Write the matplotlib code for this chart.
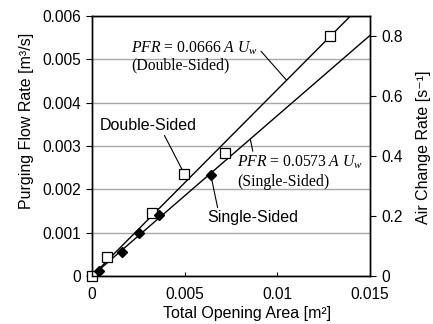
import numpy as np
import matplotlib
matplotlib.use("Agg")
import matplotlib.pyplot as plt

# measured points
double_area = [0.0, 0.00079, 0.00323, 0.00499, 0.00719, 0.01283]
double_pfr = [0.0, 0.00043, 0.00145, 0.00235, 0.00285, 0.00554]
single_area = [0.0004, 0.00164, 0.00256, 0.00364, 0.00641]
single_pfr = [0.000115, 0.000554, 0.000985, 0.00141, 0.00233]

# fitted lines PFR = c * A * Uw
coef_double = 0.0666
coef_single = 0.0573
wind_speed = 6.46
room_volume = 0.00692   # m3, converts PFR to air change rate

area_fit = [0.0, 0.015]

plt.rcParams['font.family'] = ['Liberation Sans', 'DejaVu Sans']
plt.rcParams['mathtext.fontset'] = 'custom'
plt.rcParams['mathtext.rm'] = 'Liberation Serif'
plt.rcParams['mathtext.it'] = 'Liberation Serif:italic'

fs_tick = 11.2
fs_lab = 11.5
fs_eq = 11.3

fig = plt.figure(figsize=(4.33, 3.24), dpi=100)
ax = fig.add_axes([92/433, 1-276/324, 278/433, 260/324])

a = np.array(area_fit)
ax.plot(a, coef_double*wind_speed*a, color='black', lw=1, zorder=2)
ax.plot(a, coef_single*wind_speed*a, color='black', lw=1, zorder=2)
ax.plot(double_area, double_pfr, ls='none', marker='s', ms=7.2, mfc='white',
        mec='black', mew=0.9, zorder=4, clip_on=False)
ax.plot(single_area, single_pfr, ls='none', marker='D', ms=5.5, mfc='black',
        mec='black', zorder=5, clip_on=False)

ax.set_xlim(0, 0.015)
ax.set_ylim(0, 0.006)
ax.set_xticks([0, 0.005, 0.01, 0.015])
ax.set_xticklabels(['0', '0.005', '0.01', '0.015'])
ax.set_yticks([0, 0.001, 0.002, 0.003, 0.004, 0.005, 0.006])
ax.set_yticklabels(['0', '0.001', '0.002', '0.003', '0.004', '0.005', '0.006'])
ax.yaxis.grid(True, color='#a8a8a8', lw=1)
ax.set_axisbelow(True)
ax.tick_params(axis='x', direction='in', length=3, pad=8, labelsize=fs_tick)
ax.tick_params(axis='y', direction='out', length=4, pad=4, labelsize=fs_tick)
for s in ax.spines.values():
    s.set_linewidth(1)

ax.set_xlabel('Total Opening Area [m²]', fontsize=fs_lab)
ax.xaxis.set_label_coords(0.557, -0.115)
ax.set_ylabel('Purging Flow Rate [m³/s]', fontsize=fs_lab)
ax.yaxis.set_label_coords(-0.209, 0.596)

ax2 = ax.twinx()
ax2.set_ylim(0, 0.006/room_volume)
ax2.set_yticks([0, 0.2, 0.4, 0.6, 0.8])
ax2.set_yticklabels(['0', '0.2', '0.4', '0.6', '0.8'])
ax2.tick_params(axis='y', direction='out', length=4, pad=4, labelsize=fs_tick)
ax2.set_ylabel('Air Change Rate [s⁻¹]', fontsize=fs_lab)
ax2.yaxis.set_label_coords(1.166, 0.494)
for s in ax2.spines.values():
    s.set_linewidth(1)

leader = dict(arrowstyle='-', color='black', lw=0.8, shrinkA=0, shrinkB=4)

# equation labels
ax.annotate(r'$PFR$ = 0.0666 $A$ $U_w$', xy=(0.0105, coef_double*wind_speed*0.0105),
            xytext=(0.00211, 0.00526), ha='left', va='center', fontsize=fs_eq,
            family='Liberation Serif',
            arrowprops=dict(leader, relpos=(1, 0.5), shrinkB=0))
ax.text(0.00211, 0.00485, '(Double-Sided)', ha='left', va='center', fontsize=fs_eq,
        family='Liberation Serif')
ax.annotate(r'$PFR$ = 0.0573 $A$ $U_w$', xy=(0.00854, coef_single*wind_speed*0.00854),
            xytext=(0.00782, 0.002615), ha='left', va='center', fontsize=fs_eq,
            family='Liberation Serif',
            arrowprops=dict(leader, relpos=(0.13, 1), shrinkB=0))
ax.text(0.00782, 0.002176, '(Single-Sided)', ha='left', va='center', fontsize=fs_eq,
        family='Liberation Serif')

# series labels
ax.annotate('Double-Sided', xy=(double_area[3], double_pfr[3]), xytext=(0.00043, 0.00348),
            ha='left', va='center', fontsize=fs_lab, arrowprops=dict(leader, relpos=(0.65, 0)))
ax.annotate('Single-Sided', xy=(single_area[4], single_pfr[4]), xytext=(0.00622, 0.00134),
            ha='left', va='center', fontsize=fs_lab, arrowprops=dict(leader, relpos=(0.12, 1), shrinkB=2))

fig.savefig('out.png', dpi=100)
